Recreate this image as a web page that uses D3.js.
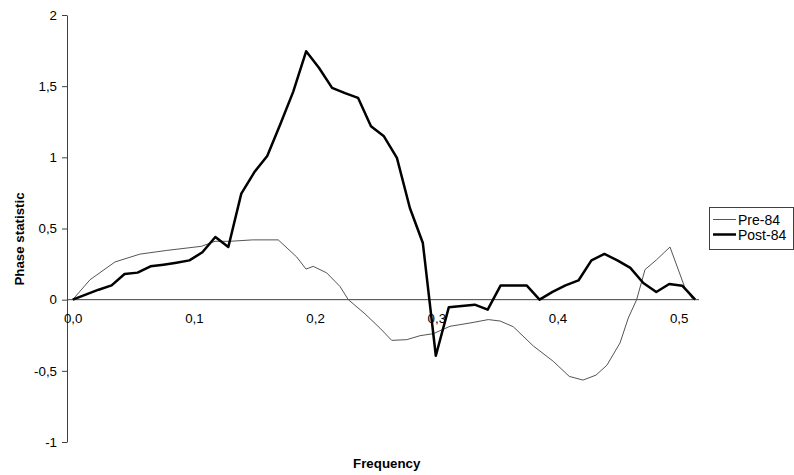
<!DOCTYPE html>
<html>
<head>
<meta charset="utf-8">
<script src="https://cdn.jsdelivr.net/npm/d3@7"></script>
<style>
  html, body { margin: 0; padding: 0; background: #fff; }
  svg { display: block; font-family: "Liberation Sans", Arial, sans-serif; }
</style>
</head>
<body>
<svg id="chart" width="794" height="475"></svg>
<script>
// ---- data ----
const seriesNames = ["Pre-84", "Post-84"];

const preFreq = [0, 0.0143, 0.0349, 0.0555, 0.0776, 0.1064, 0.1174, 0.1298, 0.1483, 0.1696,
  0.1848, 0.1925, 0.1985, 0.2096, 0.2205, 0.2274, 0.2412, 0.2535, 0.2632, 0.2756,
  0.2866, 0.2975, 0.3113, 0.3278, 0.3429, 0.3526, 0.3635, 0.3800, 0.3965, 0.4097,
  0.4210, 0.4318, 0.4408, 0.4516, 0.4584, 0.4653, 0.4722, 0.4818, 0.4928, 0.5052, 0.5118];
const preValues = [0, 0.14, 0.265, 0.32, 0.346, 0.375, 0.41, 0.41, 0.42, 0.42,
  0.30, 0.215, 0.234, 0.188, 0.093, 0, -0.1, -0.2, -0.286, -0.281,
  -0.253, -0.239, -0.187, -0.164, -0.14, -0.15, -0.19, -0.325, -0.433, -0.539,
  -0.565, -0.53, -0.46, -0.304, -0.129, 0, 0.211, 0.281, 0.37, 0.082, 0];

const postFreq = [0, 0.0107, 0.0214, 0.0321, 0.0428, 0.0535, 0.0642, 0.0749, 0.0856, 0.0963,
  0.107, 0.1177, 0.1284, 0.1391, 0.1498, 0.1605, 0.1712, 0.1819, 0.1926, 0.2033,
  0.214, 0.2247, 0.2354, 0.2461, 0.2568, 0.2675, 0.2782, 0.2889, 0.2996, 0.3103,
  0.321, 0.3317, 0.3424, 0.3531, 0.3638, 0.3745, 0.3852, 0.3959, 0.4066, 0.4173,
  0.428, 0.4387, 0.4494, 0.4601, 0.4708, 0.4815, 0.4922, 0.5029, 0.5136];
const postValues = [0, 0.035, 0.07, 0.10, 0.18, 0.19, 0.234, 0.246, 0.26, 0.276,
  0.333, 0.44, 0.37, 0.745, 0.895, 1.01, 1.23, 1.46, 1.745, 1.628,
  1.488, 1.451, 1.418, 1.218, 1.148, 0.996, 0.644, 0.398, -0.394, -0.054,
  -0.045, -0.035, -0.07, 0.10, 0.10, 0.10, 0.0, 0.055, 0.10, 0.135,
  0.276, 0.321, 0.276, 0.223, 0.117, 0.054, 0.110, 0.098, 0];

const xTicks = [0, 0.1, 0.2, 0.3, 0.4, 0.5];
const yTicks = [-1, -0.5, 0, 0.5, 1, 1.5, 2];
const xTitle = "Frequency";
const yTitle = "Phase statistic";

// ---- chart ----
const svg = d3.select("#chart");
const axisX = 67, axisRight = 699;

const x = d3.scaleLinear().domain([0, 0.5]).range([72.7, 678.7]);
const y = d3.scaleLinear().domain([-1, 2]).range([442, 15]);
const fmt = d => {
  return String(d).replace(".", ",");
};

// Y axis
const yAxis = svg.append("g")
  .attr("transform", `translate(${axisX},0)`)
  .call(d3.axisLeft(y).tickValues(yTicks).tickFormat(fmt).tickSize(5).tickSizeOuter(0).tickPadding(5));
yAxis.select(".domain").attr("stroke", "#404040");
yAxis.selectAll(".tick line").attr("stroke", "#404040");
yAxis.selectAll("text").attr("font-size", "13.3px").attr("fill", "#000")
  .attr("font-family", "Liberation Sans, Arial, sans-serif");

// X axis (zero line) with labels
svg.append("line")
  .attr("x1", axisX).attr("x2", axisRight)
  .attr("y1", y(0)).attr("y2", y(0))
  .attr("stroke", "#404040").attr("stroke-width", 1);

const xAxis = svg.append("g")
  .attr("transform", `translate(0,${y(0)})`)
  .call(d3.axisBottom(x).tickValues(xTicks).tickFormat(d => d3.format(".1f")(d).replace(".", ",")).tickSize(0));
xAxis.select(".domain").remove();
xAxis.selectAll("text").attr("y", 23.5).attr("dy", null)
  .attr("font-size", "13.3px").attr("fill", "#000")
  .attr("font-family", "Liberation Sans, Arial, sans-serif");

// Lines
const line = d3.line().x(d => x(d[0])).y(d => y(d[1]));
const preData = preFreq.map((f, i) => [f, preValues[i]]);
const postData = postFreq.map((f, i) => [f, postValues[i]]);

svg.append("path").datum(preData)
  .attr("d", line).attr("fill", "none")
  .attr("stroke", "#555").attr("stroke-width", 1).attr("stroke-linejoin", "round");
svg.append("path").datum(postData)
  .attr("d", line).attr("fill", "none")
  .attr("stroke", "#000").attr("stroke-width", 2.5).attr("stroke-linejoin", "round");

// Axis titles
svg.append("text")
  .attr("x", (72.7 + 678.7) / 2 + 11).attr("y", 468)
  .attr("text-anchor", "middle").attr("font-weight", "bold").attr("font-size", "13.3px")
  .text(xTitle);
svg.append("text")
  .attr("transform", "translate(24,239) rotate(-90)")
  .attr("text-anchor", "middle").attr("font-weight", "bold").attr("font-size", "13.3px")
  .text(yTitle);

// Legend
const lg = svg.append("g");
lg.append("rect")
  .attr("x", 709.5).attr("y", 207.5).attr("width", 84).attr("height", 42)
  .attr("fill", "#fff").attr("stroke", "#404040").attr("stroke-width", 1);
const legendItems = [
  { name: seriesNames[0], stroke: "#555", w: 1 },
  { name: seriesNames[1], stroke: "#000", w: 2.5 }
];
legendItems.forEach((it, i) => {
  const cy = 219.5 + i * 15;
  lg.append("line").attr("x1", 713).attr("x2", 736).attr("y1", cy).attr("y2", cy)
    .attr("stroke", it.stroke).attr("stroke-width", it.w);
  lg.append("text").attr("x", 738).attr("y", cy + 5)
    .attr("font-size", "14px").attr("fill", "#000").text(it.name);
});
</script>
</body>
</html>
